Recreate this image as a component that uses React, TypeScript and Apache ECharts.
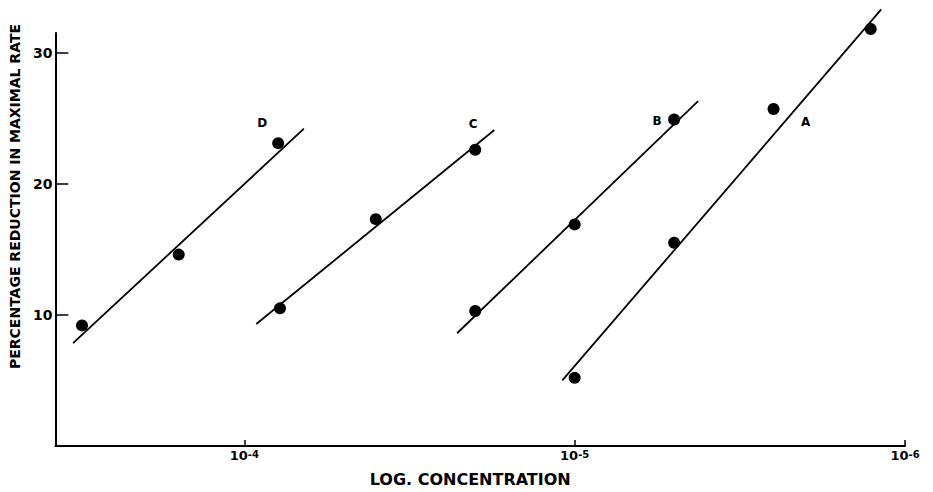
import React, { useEffect, useRef } from "react";
import * as echarts from "echarts";

// Concentrations (M) and percentage reduction in maximal rate
const concA = [1e-5, 5e-6, 2.5e-6, 1.27e-6];
const valsA = [5.2, 15.5, 25.7, 31.8];
const concB = [2e-5, 1e-5, 5e-6];
const valsB = [10.3, 16.9, 24.9];
const concC = [7.8e-5, 4e-5, 2e-5];
const valsC = [10.5, 17.3, 22.6];
const concD = [3.1e-4, 1.58e-4, 7.9e-5];
const valsD = [9.2, 14.6, 23.1];

// Fitted straight lines (end points)
const lineAConc = [1.09e-5, 1.18e-6];
const lineAVals = [5.0, 33.3];
const lineBConc = [2.27e-5, 4.23e-6];
const lineBVals = [8.6, 26.3];
const lineCConc = [9.2e-5, 1.75e-5];
const lineCVals = [9.3, 24.1];
const lineDConc = [3.3e-4, 6.6e-5];
const lineDVals = [7.85, 24.2];

const xTicks = [-6, -5, -4];
const yTicks = [10, 20, 30];

const pts = (c: number[], v: number[]) => c.map((x, i) => [Math.log10(x), v[i]]);

const FONT = "'DejaVu Sans', 'Open Sans', sans-serif";

export default function App() {
  const ref = useRef<HTMLDivElement>(null);
  useEffect(() => {
    if (!ref.current) return;
    const chart = echarts.init(ref.current, undefined, { renderer: "svg" });
    const lineSeries = (name: string, c: number[], v: number[]) => ({
      name,
      type: "line",
      data: pts(c, v),
      symbol: "none",
      clip: false,
      lineStyle: { color: "#000", width: 1.8 },
      silent: true,
    });
    const scatterSeries = (
      name: string,
      c: number[],
      v: number[],
      labelIdx: number,
      offset: number[]
    ) => ({
      name,
      type: "scatter",
      clip: false,
      symbolSize: 12,
      itemStyle: { color: "#000", opacity: 1 },
      data: pts(c, v).map((p, i) =>
        i === labelIdx
          ? {
              value: p,
              label: {
                show: true,
                formatter: name,
                position: "inside",
                offset,
                color: "#000",
                fontFamily: FONT,
                fontWeight: "bold",
                fontSize: 12,
              },
            }
          : { value: p }
      ),
    });
    chart.setOption({
      animation: false,
      backgroundColor: "#fff",
      grid: { left: 53, right: 28, top: 33, bottom: 42 },
      xAxis: {
        type: "value",
        inverse: true,
        min: -6,
        max: -3.428,
        interval: 1,
        splitLine: { show: false },
        axisLine: { show: true, onZero: false, lineStyle: { color: "#000", width: 1.8 } },
        axisTick: {
          show: true,
          inside: true,
          length: 6,
          customValues: xTicks,
          lineStyle: { color: "#000", width: 1.5 },
        },
        axisLabel: {
          customValues: xTicks,
          margin: 3,
          color: "#000",
          fontFamily: FONT,
          fontWeight: "bold",
          formatter: (v: number) => `{b|10}{s|${v}}`,
          rich: {
            b: { fontSize: 13, fontFamily: FONT, fontWeight: "bold", color: "#000" },
            s: {
              fontSize: 10,
              fontFamily: FONT,
              fontWeight: "bold",
              color: "#000",
              verticalAlign: "top",
              padding: [0, 0, 2, 0],
            },
          },
        },
        name: "LOG. CONCENTRATION",
        nameLocation: "middle",
        nameGap: 25,
        nameTextStyle: {
          color: "#000",
          fontFamily: FONT,
          fontWeight: "bold",
          fontSize: 16,
          padding: [0, 20, 0, 0],
        },
      },
      yAxis: {
        type: "value",
        min: 0,
        max: 31.5,
        interval: 10,
        splitLine: { show: false },
        axisLine: { show: true, lineStyle: { color: "#000", width: 2 } },
        axisTick: {
          show: true,
          inside: true,
          length: 13,
          customValues: yTicks,
          lineStyle: { color: "#000", width: 1.5 },
        },
        axisLabel: {
          customValues: yTicks,
          margin: 3,
          color: "#000",
          fontFamily: FONT,
          fontWeight: "bold",
          fontSize: 14,
        },
        name: "PERCENTAGE REDUCTION IN MAXIMAL RATE",
        nameLocation: "middle",
        nameRotate: 90,
        nameGap: 29,
        nameTextStyle: {
          color: "#000",
          fontFamily: FONT,
          fontWeight: "bold",
          fontSize: 14,
          padding: [0, 0, 0, 86],
        },
      },
      series: [
        lineSeries("lineA", lineAConc, lineAVals),
        lineSeries("lineB", lineBConc, lineBVals),
        lineSeries("lineC", lineCConc, lineCVals),
        lineSeries("lineD", lineDConc, lineDVals),
        scatterSeries("A", concA, valsA, 2, [32, 13]),
        scatterSeries("B", concB, valsB, 2, [-17, 1]),
        scatterSeries("C", concC, valsC, 2, [-2, -26]),
        scatterSeries("D", concD, valsD, 2, [-16, -20]),
      ],
    });
    return () => chart.dispose();
  }, []);
  return (
    <div
      ref={ref}
      style={{ position: "fixed", left: 0, top: 0, width: 933, height: 492, background: "#fff" }}
    />
  );
}
